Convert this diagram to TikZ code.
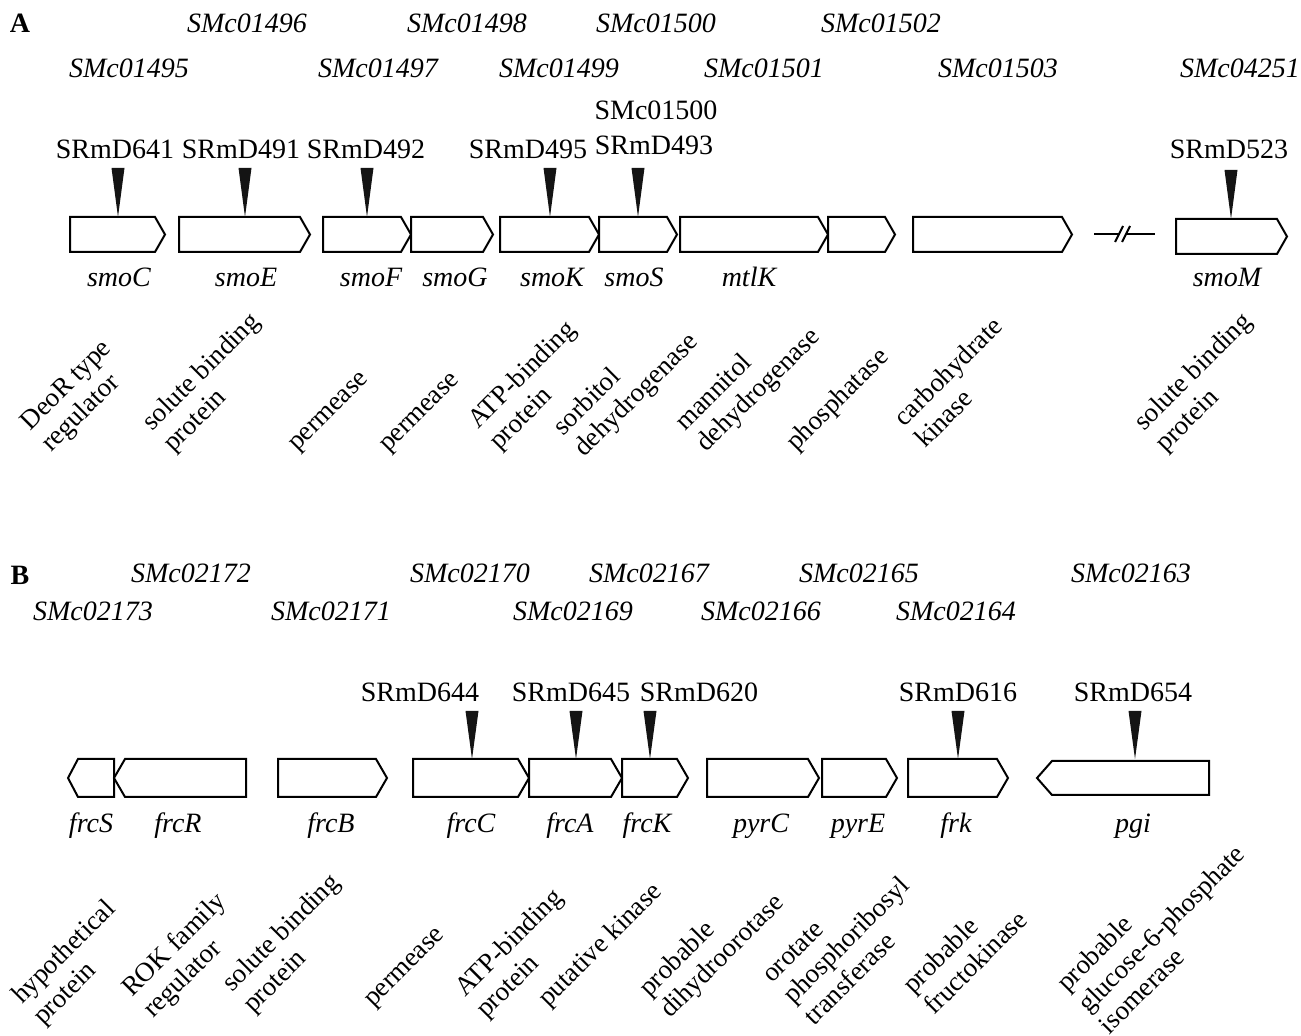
\documentclass[tikz,border=0pt]{standalone}
\usepackage{fontspec}
\setmainfont{Liberation Serif}
\usepackage{tikz}
\usetikzlibrary{positioning}

\tikzset{
  gene/.style={draw, line width=1pt, fill=white, line join=miter},
  insert/.style={fill=black!92},
  lbl/.style={font=\fontsize{14}{16}\selectfont, inner sep=0pt, anchor=base},
  orf/.style={font=\fontsize{14}{16}\selectfont\itshape, inner sep=0pt, anchor=base},
  func/.style={font=\fontsize{13.5}{15}\selectfont, rotate=45, anchor=base west,
    inner sep=0pt, xshift=3.5pt},
}
% forward gene: left, right, top, bottom, head
\newcommand{\rgene}[5]{\draw[gene] (#1,#3) -- (#2-#5,#3) -- (#2,{(#3+#4)/2})
  -- (#2-#5,#4) -- (#1,#4) -- cycle;}
% reverse gene: tip, right, top, bottom, head
\newcommand{\lgene}[5]{\draw[gene] (#1,{(#3+#4)/2}) -- (#1+#5,#3) -- (#2,#3)
  -- (#2,#4) -- (#1+#5,#4) -- cycle;}
% transposon insertion mark: x, top, apex
\newcommand{\ins}[3]{\fill[insert] (#1-6.5,#2) -- (#1+6.5,#2) -- (#1,#3) -- cycle;}
% function text, baseline on its first line
\newcommand{\fn}[1]{\begin{tabular}[t]{@{}l@{}}#1\end{tabular}}

\begin{document}
\begin{tikzpicture}[x=0.5pt, y=-0.5pt]
  \useasboundingbox (0,0) rectangle (1301,1036);

  % ---------------- panel A ----------------
  \node[lbl, font=\fontsize{14}{16}\selectfont\bfseries] (pA) at (20,33) {A};
  % locus tags
  \foreach \x/\t in {247/SMc01496, 467/SMc01498, 656/SMc01500, 881/SMc01502}
    \node[orf] (tagA\t) at (\x,33) {\t};
  \foreach \x/\t in {129/SMc01495, 378/SMc01497, 559/SMc01499, 764/SMc01501,
                     998/SMc01503, 1240/SMc04251}
    \node[orf] (tagA\t) at (\x,78) {\t};
  % genes
  \foreach \a/\b in {70/165, 179/310, 323/411, 411/493, 500/599, 599/677,
                     680/828, 828/895, 913/1072}
    {\rgene{\a}{\b}{217}{252}{10}}
  \rgene{1176}{1287}{219}{254}{10}
  % gap in the chromosome
  \coordinate (brkL) at (1094,234);
  \coordinate (brkR) at (1155,234);
  \draw[line width=1pt] (brkL) -- (1120,234) (1127,234) -- (brkR);
  \draw[line width=1pt] (1115,242) -- (1123,226) (1122,242) -- (1130,226);
  % insertions
  \foreach \x in {118,245,367,550,638}
    {\ins{\x}{168}{217}}
  \ins{1231}{170}{219}
  \foreach \x/\t in {115/SRmD641, 241/SRmD491, 366/SRmD492, 528/SRmD495,
                     1229/SRmD523}
    \node[lbl] (\t) at (\x,159) {\t};
  \node[lbl] (SMc01500b) at (656,120) {SMc01500};
  \node[lbl] (SRmD493) at (654,155) {SRmD493};
  % gene names
  \foreach \x/\t in {119/smoC, 246/smoE, 371/smoF, 455/smoG, 552/smoK,
                     634/smoS, 749/mtlK, 1227/smoM}
    \node[orf] (\t) at (\x,287) {\t};
  % functions
  \node[func] (fA1) at (25,437) {\fn{DeoR type\\regulator}};
  \node[func] (fA2) at (147,437) {\fn{solute binding\\protein}};
  \node[func] (fA3) at (292,457) {\fn{permease}};
  \node[func] (fA4) at (383,458) {\fn{permease}};
  \node[func] (fA5) at (473,435) {\fn{ATP-binding\\protein}};
  \node[func] (fA6) at (558,442) {\fn{sorbitol\\dehydrogenase}};
  \node[func] (fA7) at (680,437) {\fn{mannitol\\dehydrogenase}};
  \node[func] (fA8) at (791,457) {\fn{phosphatase}};
  \node[func] (fA9) at (899,433) {\fn{carbohydrate\\kinase}};
  \node[func] (fA10) at (1139,437) {\fn{solute binding\\protein}};

  % ---------------- panel B ----------------
  \node[lbl, font=\fontsize{14}{16}\selectfont\bfseries] (pB) at (20,585) {B};
  \foreach \x/\t in {191/SMc02172, 470/SMc02170, 649/SMc02167, 859/SMc02165,
                     1131/SMc02163}
    \node[orf] (tagB\t) at (\x,583) {\t};
  \foreach \x/\t in {93/SMc02173, 331/SMc02171, 573/SMc02169, 761/SMc02166,
                     956/SMc02164}
    \node[orf] (tagB\t) at (\x,621) {\t};
  % genes
  \lgene{68}{114}{759}{797}{10}
  \lgene{114}{246}{759}{797}{11}
  \foreach \a/\b in {278/387, 413/529, 529/622, 622/688, 707/819, 822/897,
                     908/1008}
    {\rgene{\a}{\b}{759}{797}{11}}
  \lgene{1037}{1209}{761}{795}{15}
  % insertions
  \foreach \x in {472,576,650,958,1135}
    {\ins{\x}{711}{759}}
  \foreach \x/\t in {420/SRmD644, 571/SRmD645, 699/SRmD620, 958/SRmD616,
                     1133/SRmD654}
    \node[lbl] (\t) at (\x,702) {\t};
  % gene names
  \foreach \x/\t in {91/frcS, 178/frcR, 331/frcB, 471/frcC, 570/frcA,
                     647/frcK, 761/pyrC, 858/pyrE, 956/frk, 1133/pgi}
    \node[orf] (\t) at (\x,832) {\t};
  % functions
  \node[func] (fB1) at (17,1010) {\fn{hypothetical\\protein}};
  \node[func] (fB2) at (127,1003) {\fn{ROK family\\regulator}};
  \node[func] (fB3) at (227,998) {\fn{solute binding\\protein}};
  \node[func] (fB4) at (368,1013) {\fn{permease}};
  \node[func] (fB5) at (460,1003) {\fn{ATP-binding\\protein}};
  \node[func] (fB6) at (543,1013) {\fn{putative kinase}};
  \node[func] (fB7) at (644,1003) {\fn{probable\\dihydroorotase}};
  \node[func] (fB8) at (767,989) {\fn{orotate\\phosphoribosyl\\transferase}};
  \node[func] (fB9) at (908,1000) {\fn{probable\\fructokinase}};
  \node[func] (fB10) at (1062,998) {\fn{probable\\glucose-6-phosphate\\isomerase}};
\end{tikzpicture}
\end{document}
